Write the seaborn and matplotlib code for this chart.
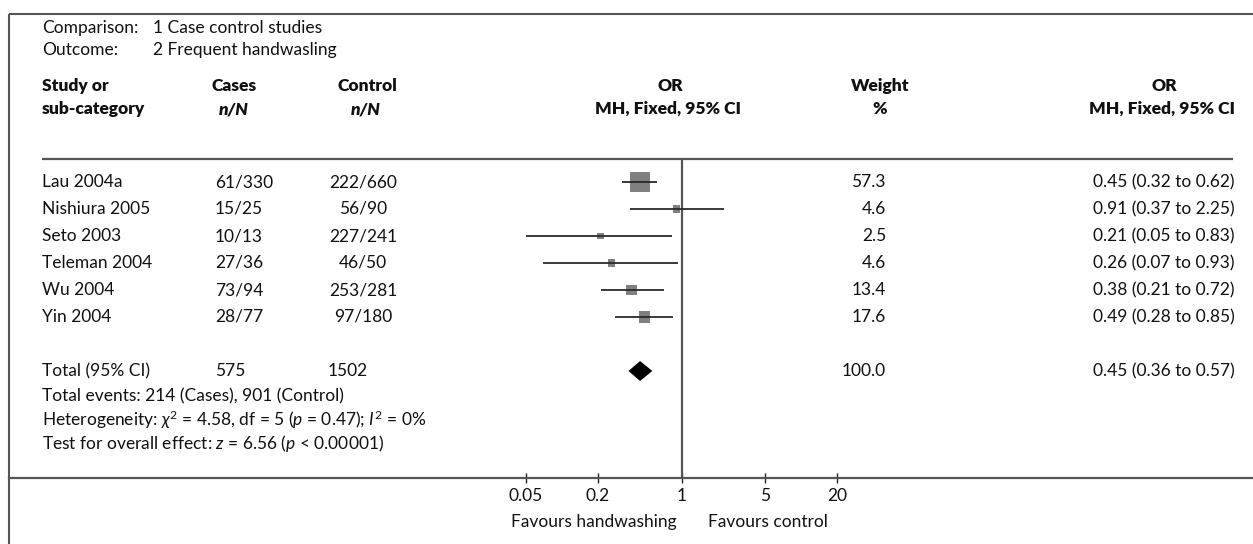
import numpy as np
import pandas as pd
import matplotlib
matplotlib.use("Agg")
import matplotlib.pyplot as plt
import seaborn as sns

# ---- study data ----
studies = ["Lau 2004a", "Nishiura 2005", "Seto 2003", "Teleman 2004", "Wu 2004", "Yin 2004"]
cases = ["61/330", "15/25", "10/13", "27/36", "73/94", "28/77"]
controls = ["222/660", "56/90", "227/241", "46/50", "253/281", "97/180"]
odds_ratio = [0.45, 0.91, 0.21, 0.26, 0.38, 0.49]
ci_low = [0.32, 0.37, 0.05, 0.07, 0.21, 0.28]
ci_high = [0.62, 2.25, 0.83, 0.93, 0.72, 0.85]
weights = [57.3, 4.6, 2.5, 4.6, 13.4, 17.6]

# pooled estimate
total_cases = "575"
total_controls = "1502"
total_weight = 100.0
total_or = 0.45
total_low = 0.36
total_high = 0.57

tick_values = [0.05, 0.2, 1, 5, 20]
tick_labels = ["0.05", "0.2", "1", "5", "20"]

sns.set_theme(style="white")
plt.rcParams["font.family"] = ["Lato", "DejaVu Sans"]
plt.rcParams["mathtext.fontset"] = "custom"
plt.rcParams["mathtext.rm"] = "Lato"
plt.rcParams["mathtext.it"] = "Lato:italic"
plt.rcParams["mathtext.bf"] = "Lato:bold"

W, H = 1253, 544
fig = plt.figure(figsize=(W / 100, H / 100), dpi=100)
fig.patch.set_facecolor("white")

# overlay in pixel coordinates for the table text and frame
ov = fig.add_axes([0, 0, 1, 1])
ov.set_xlim(0, W)
ov.set_ylim(H, 0)
ov.axis("off")

LINE = "#555555"
FS = 12.5
TXT = "#111111"

# frame
ov.plot([9, W], [14, 14], color=LINE, lw=1.5, solid_capstyle="butt")
ov.plot([9, 9], [14, H], color=LINE, lw=1.5, solid_capstyle="butt")
# header separator
ov.plot([42, 1233], [159, 159], color=LINE, lw=1.6, solid_capstyle="butt")

def t(x, y, s, ha="left", **kw):
    ov.text(x, y, s, ha=ha, va="center", fontsize=FS, color=TXT, **kw)

t(42, 28, "Comparison:")
t(153, 28, "1 Case control studies")
t(42, 50, "Outcome:")
t(153, 50, "2 Frequent handwasling")

hb = dict(fontweight="heavy")
t(42, 86, "Study or", **hb)
t(42, 109, "sub-category", **hb)
t(234, 86, "Cases", ha="center", **hb)
t(234, 109, "n/N", ha="center", fontweight="heavy", fontstyle="italic")
t(367, 86, "Control", ha="center", **hb)
t(366, 109, "n/N", ha="center", fontweight="heavy", fontstyle="italic")
t(670, 86, "OR", ha="center", **hb)
t(668, 109, "MH, Fixed, 95% CI", ha="center", **hb)
t(880, 86, "Weight", ha="center", **hb)
t(880, 109, "%", ha="center", **hb)
t(1164, 86, "OR", ha="center", **hb)
t(1162, 109, "MH, Fixed, 95% CI", ha="center", **hb)

CI_X = 1093
ROW0, STEP = 182, 27
for i, name in enumerate(studies):
    y = ROW0 + STEP * i
    t(42, y, name)
    t(215, y, cases[i])
    t(363, y, controls[i], ha="center")
    t(886, y, f"{weights[i]:.1f}", ha="right")
    t(CI_X, y, f"{odds_ratio[i]:.2f} ({ci_low[i]:.2f} to {ci_high[i]:.2f})")

TOTAL_ROW = 7
yt = ROW0 + STEP * TOTAL_ROW
t(42, yt, "Total (95% CI)")
t(215, yt, total_cases)
t(328, yt, total_controls)
t(886, yt, f"{total_weight:.1f}", ha="right")
t(CI_X, yt, f"{total_or:.2f} ({total_low:.2f} to {total_high:.2f})")

t(42, 396, "Total events: 214 (Cases), 901 (Control)")
t(42, 420, r"Heterogeneity: $\chi^2$ = 4.58, df = 5 ($p$ = 0.47); $I^2$ = 0%")
t(42, 443, r"Test for overall effect: $z$ = 6.56 ($p$ < 0.00001)")

t(677, 522, "Favours handwashing", ha="right")
t(708, 522, "Favours control")

# ---- forest plot axes (log scale) ----
X1, PX_DEC = 681.5, 119.5
left_px, right_px, top_px, bot_px = 9, W, 159, 478
ax = fig.add_axes([left_px / W, (H - bot_px) / H, (right_px - left_px) / W, (bot_px - top_px) / H])
ax.patch.set_alpha(0)
ax.set_xscale("log")
ax.set_xlim(10 ** ((left_px - X1) / PX_DEC), 10 ** ((right_px - X1) / PX_DEC))
ax.set_ylim((bot_px - ROW0) / STEP, (top_px - ROW0) / STEP)

df = pd.DataFrame({"study": studies, "or": odds_ratio, "lo": ci_low, "hi": ci_high,
                   "weight": weights, "row": np.arange(len(studies))})

sns.scatterplot(data=df, x="or", y="row", size="weight", sizes=(22, 207),
                marker="s", color="#808080", linewidth=0, legend=False, ax=ax, zorder=3)
ax.hlines(df["row"], df["lo"], df["hi"], color="#2a2a2a", lw=1.3, zorder=4)

# pooled diamond
hd = 0.37
ax.fill([total_low, total_or, total_high, total_or],
        [TOTAL_ROW, TOTAL_ROW - hd, TOTAL_ROW, TOTAL_ROW + hd],
        color="black", lw=0, zorder=4)

ax.axvline(1, color=LINE, lw=1.6, zorder=2)

for s in ["top", "left", "right"]:
    ax.spines[s].set_visible(False)
ax.spines["bottom"].set_color(LINE)
ax.spines["bottom"].set_linewidth(1.6)
ax.set_xticks(tick_values)
ax.set_xticklabels(tick_labels)
ax.minorticks_off()
ax.xaxis.set_minor_locator(matplotlib.ticker.NullLocator())
ax.tick_params(axis="x", direction="inout", length=7, width=1, color="#222222",
               labelsize=FS, pad=4, bottom=True, labelcolor=TXT)
ax.set_yticks([])
ax.set_xlabel("")
ax.set_ylabel("")

fig.savefig("out.png", dpi=100)
